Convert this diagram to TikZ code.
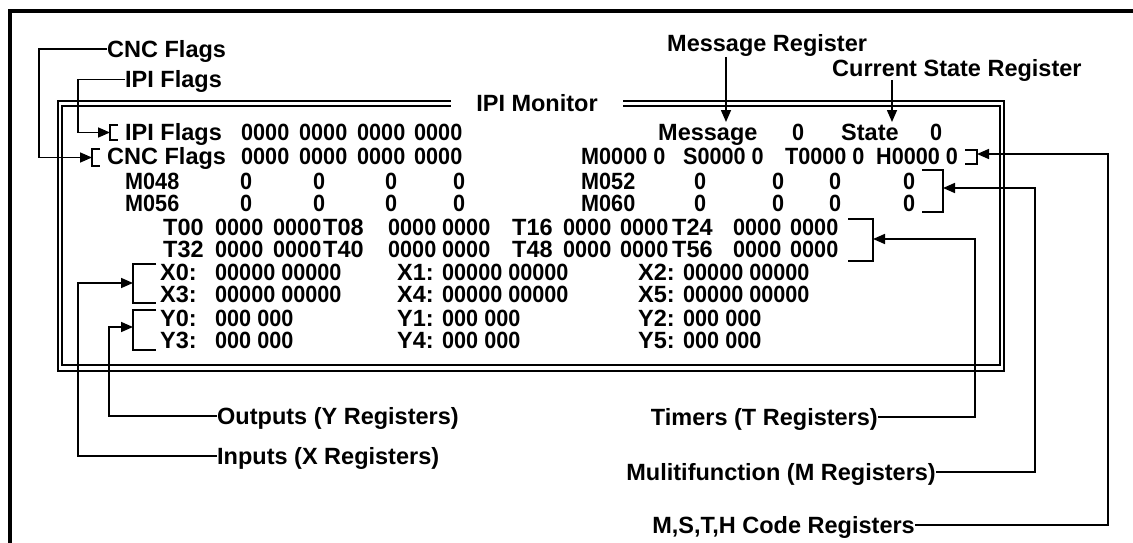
\documentclass[tikz,border=0pt]{standalone}
\usepackage{fontspec}
\setmainfont{Liberation Sans}
\newfontfamily\narrowfont{Liberation Sans}[FakeStretch=0.92]
\usetikzlibrary{arrows.meta}
\begin{document}
\begin{tikzpicture}[x=1pt,y=-1pt,
  txt/.style={font=\fontsize{23.5}{28}\selectfont\bfseries, inner sep=0pt,
              text height=16.8pt, text depth=0pt, anchor=west},
  dig/.style={txt, font=\fontsize{23.5}{28}\narrowfont\bfseries},
  ln/.style={line width=1.6pt},
  arr/.style={line width=1.6pt, -{Triangle[length=12pt,width=10pt]}},
  frame/.style={line width=3.5pt}]
\useasboundingbox (0,0) rectangle (1133,543);
\fill[white] (0,0) rectangle (1133,543);

% outer frame (left and top visible)
\draw[frame] (10,543) -- (10,11) -- (1133,11);

% double monitor frame
\draw[ln] (58,101) rectangle (1004,371);
\draw[ln] (62,106) rectangle (1000,365);
\node[txt, anchor=center, fill=white, minimum width=172pt] (title) at (537,103) {IPI Monitor};

% ---------- monitor text ----------
% row 1
\node[txt] (r1l) at (125,132.5) {IPI Flags};
\foreach \x [count=\i] in {241,299,357,414} \node[dig] (r1g\i) at (\x,132.5) {0000};
\node[txt] (r1msg) at (658,132.5) {Message};
\node[dig] (r1msgv) at (792,132.5) {0};
\node[txt] (r1st) at (841,132.5) {State};
\node[dig] (r1stv) at (930,132.5) {0};
% row 2
\node[txt] (r2l) at (107,156.5) {CNC Flags};
\foreach \x [count=\i] in {241,299,357,414} \node[dig] (r2g\i) at (\x,156.5) {0000};
\foreach \x/\t [count=\i] in {581/M,683/S,785/T,876/H} \node[dig] (r2c\i) at (\x,156.5) {\t0000 0};
% M rows
\node[dig] (m48) at (125,181.5) {M048};
\foreach \x [count=\i] in {240,313,385,453} \node[dig] (m48v\i) at (\x,181.5) {0};
\node[dig] (m52) at (581,181.5) {M052};
\foreach \x [count=\i] in {694,772,829,903} \node[dig] (m52v\i) at (\x,181.5) {0};
\node[dig] (m56) at (125,203.5) {M056};
\foreach \x [count=\i] in {240,313,385,453} \node[dig] (m56v\i) at (\x,203.5) {0};
\node[dig] (m60) at (581,203.5) {M060};
\foreach \x [count=\i] in {694,772,829,903} \node[dig] (m60v\i) at (\x,203.5) {0};
% T rows
\foreach \x/\t [count=\i] in {163/T00,323/T08,512/T16,672/T24}
  \node[txt] (tal\i) at (\x,227.5) {\t};
\foreach \x [count=\i] in {215,273,388,442,563,620,733,790}
  \node[dig] (tav\i) at (\x,227.5) {0000};
\foreach \x/\t [count=\i] in {163/T32,323/T40,512/T48,672/T56}
  \node[txt] (tbl\i) at (\x,249) {\t};
\foreach \x [count=\i] in {215,273,388,442,563,620,733,790}
  \node[dig] (tbv\i) at (\x,249) {0000};
% X rows
\foreach \x/\t [count=\i] in {160/X0:,397/X1:,638/X2:} \node[txt] (xal\i) at (\x,272.5) {\t};
\foreach \x [count=\i] in {215,442,683} \node[dig] (xav\i) at (\x,272.5) {00000 00000};
\foreach \x/\t [count=\i] in {160/X3:,397/X4:,638/X5:} \node[txt] (xbl\i) at (\x,294.5) {\t};
\foreach \x [count=\i] in {215,442,683} \node[dig] (xbv\i) at (\x,294.5) {00000 00000};
% Y rows
\foreach \x/\t [count=\i] in {160/Y0:,397/Y1:,638/Y2:} \node[txt] (yal\i) at (\x,318) {\t};
\foreach \x [count=\i] in {215,442,683} \node[dig] (yav\i) at (\x,318) {000 000};
\foreach \x/\t [count=\i] in {160/Y3:,397/Y4:,638/Y5:} \node[txt] (ybl\i) at (\x,340) {\t};
\foreach \x [count=\i] in {215,442,683} \node[dig] (ybv\i) at (\x,340) {000 000};

% ---------- brackets ----------
\draw[ln] (118,125) -- (110,125) -- (110,140) -- (118,140);
\draw[ln] (100,149) -- (92,149) -- (92,166) -- (100,166);
\draw[ln] (965,150) -- (977,150) -- (977,164) -- (965,164);
\draw[ln] (922,170) -- (943,170) -- (943,212) -- (922,212);
\draw[ln] (848,219) -- (873,219) -- (873,261) -- (848,261);
\draw[ln] (156,264) -- (133,264) -- (133,303) -- (156,303);
\draw[ln] (156,310) -- (133,310) -- (133,350) -- (156,350);
\coordinate (bipi) at (110,132.5);
\coordinate (bcnc) at (92,157.5);
\coordinate (bmsth) at (977,154);
\coordinate (bm) at (943,188);
\coordinate (bt) at (873,239);
\coordinate (bx) at (133,283);
\coordinate (by) at (133,327);
\coordinate (msgtop) at (726,57);
\coordinate (msgtip) at (726,122);
\coordinate (sttop) at (892,80);
\coordinate (sttip) at (892,122);

% ---------- callout labels ----------
\node[txt] (lcnc) at (107,49) {CNC Flags};
\node[txt] (lipi) at (125,79.5) {IPI Flags};
\node[txt] (lmsg) at (667,43.5) {Message Register};
\node[txt] (lcur) at (832,68.5) {Current State Register};
\node[txt, anchor=west] (lout) at (217,416) {Outputs (Y Registers)};
\node[txt, anchor=west] (linp) at (217,456) {Inputs (X Registers)};
\node[txt, anchor=east] (ltim) at (878,417) {Timers (T Registers)};
\node[txt, anchor=east] (lmul) at (936,472) {Mulitifunction (M Registers)};
\node[txt, anchor=east] (lmsth) at (915,525) {M,S,T,H Code Registers};

% ---------- connectors ----------
\draw[arr] (lcnc.west) -| (39,157.5) -- (bcnc);
\draw[arr] (lipi.west) -| (78,132.5) -- (bipi);
\draw[arr] (msgtop) -- (msgtip);
\draw[arr] (sttop) -- (sttip);
\draw[arr] (lmsth.east) -| (1108,154) -- (bmsth);
\draw[arr] (lmul.east) -| (1035,188) -- (bm);
\draw[arr] (ltim.east) -| (975,239) -- (bt);
\draw[arr] (lout.west) -| (109,327) -- (by);
\draw[arr] (linp.west) -| (78,283) -- (bx);
\end{tikzpicture}
\end{document}
